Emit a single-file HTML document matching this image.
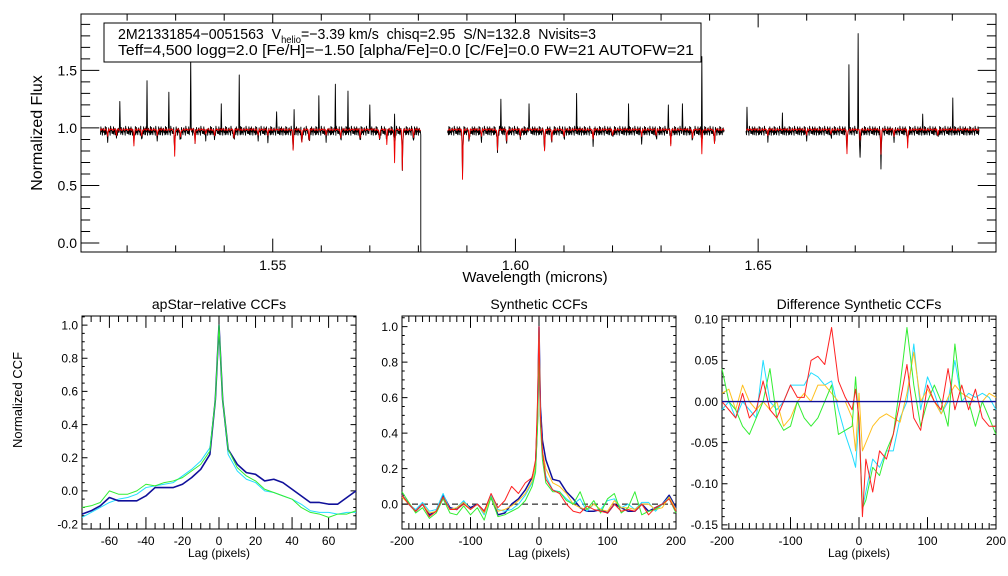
<!DOCTYPE html>
<html><head><meta charset="utf-8"><style>
html,body{margin:0;padding:0;background:#fff;}
svg{display:block;font-family:"Liberation Sans",sans-serif;}
</style></head><body>
<svg id="fig" width="1008" height="576" viewBox="0 0 1008 576" xmlns="http://www.w3.org/2000/svg">
<rect width="1008" height="576" fill="#fff"/>
<g id="top"></g><g id="p1"></g><g id="p2"></g><g id="p3"></g>
<g>
<rect x="104" y="23" width="597" height="39" fill="#fff" stroke="#000" stroke-width="1"/>
<text x="118" y="39" font-size="15" textLength="478" lengthAdjust="spacingAndGlyphs" xml:space="preserve">2M21331854−0051563  V<tspan font-size="10" dy="4">helio</tspan><tspan dy="-4">=−3.39 km/s  chisq=2.95  S/N=132.8  Nvisits=3</tspan></text>
<text x="118" y="55" font-size="15" textLength="576" lengthAdjust="spacingAndGlyphs">Teff=4,500 logg=2.0 [Fe/H]=−1.50 [alpha/Fe]=0.0 [C/Fe]=0.0 FW=21 AUTOFW=21</text>
</g>
</svg>
<script>
// ---------- spectrum data ----------
const segments = [[1.5145,1.5805],[1.5860,1.6430],[1.6475,1.6955]];
const spikeWl = [1.5185,1.5241,1.5286,1.5331,1.5394,1.5431,1.5508,1.5544,1.5595,1.5629,1.5655,1.5700,1.5751,1.5970,1.6028,1.6126,1.6233,1.6315,1.6344,1.6384,1.6477,1.6550,1.6687,1.6706,1.6839,1.6901];
const spikeVal = [1.23,1.41,1.31,1.62,1.21,1.46,1.14,1.16,1.28,1.38,1.32,1.20,1.12,1.25,1.21,1.30,1.21,1.20,1.21,1.62,1.18,1.13,1.55,1.82,1.12,1.26];
const dipWl = [1.5214,1.5298,1.5340,1.5542,1.5560,1.5735,1.5751,1.5767,1.5891,1.5963,1.5982,1.6060,1.6075,1.6320,1.6384,1.6410,1.6683,1.6710,1.6753,1.6808];
const dipModel = [0.85,0.75,0.87,0.81,0.88,0.86,0.69,0.64,0.56,0.80,0.88,0.80,0.88,0.85,0.77,0.86,0.77,0.90,0.78,0.82];
const dipObs = [0.88,0.80,0.90,0.82,0.85,0.88,0.75,0.64,0.60,0.76,0.86,0.77,0.87,0.87,0.77,0.85,0.80,0.71,0.66,0.85];
const weakWl = [1.5160,1.5178,1.5230,1.5262,1.5310,1.5362,1.5380,1.5420,1.5470,1.5490,1.5575,1.5610,1.5640,1.5680,1.5720,1.5790,1.5905,1.5930,1.6010,1.6100,1.6160,1.6200,1.6260,1.6290,1.6365,1.6520,1.6600,1.6650,1.6780,1.6870];
const weakDepth = [0.93,0.94,0.92,0.93,0.92,0.94,0.93,0.92,0.94,0.93,0.90,0.93,0.91,0.92,0.90,0.92,0.90,0.93,0.93,0.92,0.90,0.93,0.92,0.93,0.91,0.93,0.94,0.94,0.93,0.93];
const noise = [0.01,-0.015,0.02,-0.005,0.012,-0.02,0.0,0.018,-0.01,0.005,-0.018,0.015,-0.008,0.02,-0.012,0.004,-0.02,0.01,0.016,-0.006,0.008,-0.014,0.019,-0.003,0.011,-0.017,0.006,-0.009,0.014,-0.011,0.003];
const edgeDropWl = 1.5805, edgeDropVal = 0.0;

// ---------- CCF data ----------
const lag1 = [-75,-70,-65,-60,-55,-50,-45,-40,-35,-30,-25,-20,-15,-10,-5,-2,0,2,5,10,15,20,25,30,35,40,45,50,55,60,65,70,75];
const ccf1Navy = [-0.14,-0.12,-0.09,-0.04,-0.06,-0.06,-0.06,-0.03,0.02,0.02,0.02,0.04,0.08,0.13,0.22,0.55,1.0,0.55,0.25,0.16,0.11,0.10,0.06,0.07,0.05,0.01,-0.03,-0.07,-0.07,-0.08,-0.08,-0.04,0.0];
const ccf1Cyan = [-0.16,-0.13,-0.10,-0.07,-0.05,-0.04,-0.02,0.02,0.03,0.04,0.05,0.09,0.13,0.18,0.26,0.55,1.0,0.55,0.22,0.12,0.07,0.05,0.0,-0.01,-0.03,-0.05,-0.08,-0.12,-0.13,-0.13,-0.14,-0.13,-0.13];
const ccf1Green = [-0.10,-0.09,-0.07,0.0,-0.02,-0.02,0.0,0.04,0.03,0.05,0.06,0.08,0.12,0.16,0.24,0.55,1.0,0.55,0.25,0.14,0.09,0.06,0.01,-0.01,-0.03,-0.05,-0.10,-0.13,-0.14,-0.16,-0.14,-0.14,-0.12];

const lag2 = [-200,-190,-180,-170,-160,-150,-140,-130,-120,-110,-100,-90,-80,-70,-60,-50,-40,-30,-20,-10,-5,-2,0,2,5,10,20,30,40,50,60,70,80,90,100,110,120,130,140,150,160,170,180,190,200];
const ccf2Navy = [0.05,0.0,-0.04,0.0,-0.06,-0.04,0.05,-0.02,-0.03,0.01,-0.02,0.0,-0.04,0.04,-0.06,-0.05,0.0,0.03,0.08,0.15,0.22,0.5,1.0,0.55,0.36,0.25,0.14,0.13,0.07,0.03,-0.02,-0.04,-0.04,-0.03,-0.05,0.0,-0.02,-0.04,-0.04,0.0,-0.04,-0.02,0.0,0.05,-0.02];
const ccf2Cyan = [0.05,0.0,-0.03,0.01,-0.04,-0.03,0.06,-0.03,-0.02,0.02,-0.03,0.0,-0.06,0.05,-0.03,-0.04,-0.03,0.0,0.05,0.12,0.2,0.5,1.0,0.5,0.3,0.16,0.08,0.07,0.03,0.0,0.03,-0.04,0.0,-0.03,0.02,0.03,-0.02,0.0,-0.03,0.01,0.01,-0.04,0.0,0.04,-0.03];
const ccf2Orange = [0.04,0.0,-0.04,0.0,-0.05,-0.04,0.04,-0.03,-0.02,0.01,-0.03,0.0,-0.05,0.04,-0.04,-0.03,-0.01,0.02,0.06,0.13,0.22,0.5,1.0,0.5,0.3,0.2,0.12,0.10,0.06,0.0,-0.02,-0.03,0.0,-0.03,-0.04,0.02,-0.02,-0.02,-0.03,0.0,0.0,-0.03,-0.02,0.04,-0.03];
const ccf2Green = [0.07,0.01,-0.05,-0.02,-0.08,-0.05,0.03,-0.05,-0.06,-0.01,-0.06,-0.02,-0.09,0.04,-0.07,-0.06,-0.04,-0.02,0.02,0.10,0.18,0.45,0.9,0.45,0.25,0.12,0.07,0.07,0.02,0.0,0.07,-0.03,0.02,-0.05,0.03,0.06,-0.05,-0.02,0.07,-0.06,-0.04,-0.03,0.0,0.03,-0.05];
const ccf2Red = [0.05,0.0,-0.04,0.0,-0.07,-0.04,0.04,-0.03,-0.03,0.0,-0.03,0.0,-0.04,0.06,-0.02,0.02,0.10,0.06,0.12,0.15,0.25,0.6,1.0,0.5,0.3,0.14,0.08,0.06,0.0,-0.04,-0.05,-0.01,-0.03,-0.04,-0.05,0.0,-0.04,-0.03,-0.04,0.0,-0.06,-0.02,0.0,0.03,-0.04];

const lag3 = [-200,-190,-180,-170,-160,-150,-140,-130,-120,-110,-100,-90,-80,-70,-60,-50,-40,-30,-20,-10,-5,0,5,10,20,30,40,50,60,70,80,90,100,110,120,130,140,150,160,170,180,190,200];
const diffCyan = [-0.01,0.0,-0.02,0.0,-0.01,-0.02,0.05,0.0,-0.01,0.0,0.02,0.02,0.02,0.035,0.03,0.02,0.025,-0.01,-0.04,-0.065,-0.08,-0.02,-0.13,-0.11,-0.07,-0.08,-0.06,-0.06,-0.02,0.0,0.07,-0.01,0.03,0.01,-0.015,0.0,0.05,0.0,0.01,0.005,0.01,0.005,-0.01];
const diffOrange = [0.01,0.015,-0.01,0.02,0.0,-0.01,0.0,-0.01,0.0,-0.03,-0.02,0.0,0.01,0.0,0.02,0.02,0.01,0.0,0.0,-0.02,-0.06,0.01,-0.06,-0.05,-0.03,-0.02,-0.015,-0.02,-0.025,0.01,0.06,0.0,0.015,0.0,-0.015,0.005,0.02,0.01,0.005,0.0,0.0,0.01,0.005];
const diffGreen = [0.04,0.0,-0.01,-0.03,-0.04,-0.02,0.0,0.04,-0.02,-0.035,-0.03,0.0,-0.02,-0.03,-0.02,0.0,0.02,-0.04,-0.035,-0.03,0.03,-0.03,-0.13,-0.12,-0.08,-0.09,-0.06,-0.04,0.02,0.09,0.02,-0.03,0.0,0.02,0.0,-0.03,0.07,0.0,0.0,-0.03,0.0,-0.02,-0.04];
const diffRed = [0.0,-0.01,-0.02,0.01,-0.02,-0.01,0.025,-0.01,-0.02,0.0,0.02,0.005,0.005,0.05,0.055,0.045,0.09,0.025,0.005,-0.01,0.015,-0.02,-0.14,-0.07,-0.11,-0.06,-0.07,-0.04,0.0,0.045,-0.02,-0.035,0.02,0.0,-0.01,0.04,-0.01,0.02,-0.01,0.015,-0.02,-0.03,-0.03];

const NS='http://www.w3.org/2000/svg';
function mk(parent, tag, attrs){const e=document.createElementNS(NS,tag);for(const k in attrs)e.setAttribute(k,attrs[k]);parent.appendChild(e);return e;}
function scale(d0,d1,r0,r1){return v=>r0+(v-d0)/(d1-d0)*(r1-r0);}

function axes(g, box, xd, yd, xt, yt, fmtX, fmtY, fs){
  const [L,T,R,B]=box;
  const X=scale(xd[0],xd[1],L,R), Y=scale(yd[0],yd[1],B,T);
  const tk=mk(g,'path',{fill:'none',stroke:'#000','stroke-width':1});
  
  
  let d='';
  const maj=(B-T)*0.035, majx=(R-L)*0.02, minx=majx/2;
  for(let v=xt.min0; v<=xd[1]+1e-9; v+=xt.minor){
    const isMaj=Math.abs(Math.round(v/xt.major)*xt.major-v)<1e-7, x=X(v);
    if(x<L-0.1||x>R+0.1) continue;
    const l=isMaj?maj*1.6:maj*0.8;
    d+=`M${x} ${B}v${-l}M${x} ${T}v${l}`;
  }
  for(let v=yt.min0; v<=yd[1]+1e-9; v+=yt.minor){
    const isMaj=Math.abs(Math.round(v/yt.major)*yt.major-v)<1e-7, y=Y(v);
    if(y<T-0.1||y>B+0.1) continue;
    const l=isMaj?majx:minx;
    d+=`M${L} ${y}h${l}M${R} ${y}h${-l}`;
  }
  tk.setAttribute('d',d);
  xt.labels.forEach(v=>{const t=mk(g,'text',{x:X(v),y:B+fs+4,'font-size':fs,'text-anchor':'middle'});t.textContent=fmtX(v);
    
    });
  yt.labels.forEach(v=>{const t=mk(g,'text',{x:L-4,y:Y(v)+fs*0.36,'font-size':fs,'text-anchor':'end'});t.textContent=fmtY(v);
    
    });
  const fr=mk(g,'rect',{x:L,y:T,width:R-L,height:B-T,fill:'none',stroke:'#000','stroke-width':1});
  
  
  return {X,Y};
}
function line(g,X,Y,xs,ys,color,w,name){
  const p=mk(g,'polyline',{points:xs.map((x,i)=>X(x).toFixed(2)+','+Y(ys[i]).toFixed(2)).join(' '),fill:'none',stroke:color,'stroke-width':w,'stroke-linejoin':'round'});
  
  
  return p;
}
function txt(g,x,y,s,fs,name,rot){const t=mk(g,'text',{x:x,y:y,'font-size':fs,'text-anchor':'middle'});if(rot)t.setAttribute('transform',`rotate(-90 ${x} ${y})`);t.textContent=s;
  
  }

// ---------- top panel ----------
(function(){
  const g=document.getElementById('top');
  const {X,Y}=axes(g,[81,14,996,252],[1.5105,1.699],[-0.078,1.99],
    {min0:1.51,minor:0.01,major:0.05,labels:[1.55,1.60,1.65]},
    {min0:0,minor:0.1,major:0.5,labels:[0,0.5,1.0,1.5]},v=>v.toFixed(2),v=>v.toFixed(1),14);
  txt(g,535,282,'Wavelength (microns)',15,'x-axis-title');
  txt(g,42,133,'Normalized Flux',16,'y-axis-title',true);
  const step=0.0001;
  segments.forEach((s,si)=>{
    const obsX=[],obsY=[],modX=[],modY=[];
    let k=si*7;
    for(let w=s[0];w<=s[1]+1e-9;w+=step){
      k++;
      let o=0.972+noise[k%noise.length]*1.9+noise[(k*3)%noise.length]*0.6, m=0.985+noise[(k*7)%noise.length]*0.4;
      dipWl.forEach((dw,i)=>{const a=Math.abs(w-dw);if(a<0.00025){const f=1-a/0.00025;m-= (0.985-dipModel[i])*f*f;o-=(0.975-dipObs[i])*f*f;}});
      weakWl.forEach((dw,i)=>{const a=Math.abs(w-dw);if(a<0.0002){const f=1-a/0.0002;m-=(0.985-weakDepth[i])*f;o-=(0.985-weakDepth[i])*f*1.2;}});
      spikeWl.forEach((sw,i)=>{if(Math.abs(w-sw)<step/2) o=spikeVal[i];});
      obsX.push(w);obsY.push(o);modX.push(w);modY.push(m);
    }
    if(Math.abs(s[1]-edgeDropWl)<1e-6){obsX.push(edgeDropWl);obsY.push(edgeDropVal);obsX.push(edgeDropWl+0.00002);obsY.push(-0.08);}
    line(g,X,Y,obsX,obsY,'#000',0.9,'observed-spectrum-seg'+(si+1));
    line(g,X,Y,modX,modY,'#ee0000',0.9,'model-spectrum-seg'+(si+1));
  });
})();

// ---------- bottom panels ----------
(function(){
  const g=document.getElementById('p1');
  const {X,Y}=axes(g,[82,316,356,529],[-75,75],[-0.23,1.055],
    {min0:-75,minor:5,major:20,labels:[-60,-40,-20,0,20,40,60]},
    {min0:-0.2,minor:0.05,major:0.2,labels:[-0.2,0,0.2,0.4,0.6,0.8,1.0]},v=>String(v),v=>v.toFixed(1),12);
  txt(g,219,309,'apStar−relative CCFs',14,'panel1-title');
  txt(g,219,557,'Lag (pixels)',12,'panel1-x-title');
  txt(g,22,400,'Normalized CCF',13,'panel1-y-title',true);
  line(g,X,Y,lag1,ccf1Cyan,'#22ddff',1,'ccf1-cyan');
  line(g,X,Y,lag1,ccf1Navy,'#10109a',1.6,'ccf1-navy');
  line(g,X,Y,lag1,ccf1Green,'#33ee33',1,'ccf1-green');
})();
(function(){
  const g=document.getElementById('p2');
  const {X,Y}=axes(g,[402,316,676,529],[-200,200],[-0.14,1.06],
    {min0:-200,minor:10,major:100,labels:[-200,-100,0,100,200]},
    {min0:-0.1,minor:0.05,major:0.2,labels:[0,0.2,0.4,0.6,0.8,1.0]},v=>String(v),v=>v.toFixed(1),12);
  txt(g,539,309,'Synthetic CCFs',14,'panel2-title');
  txt(g,539,557,'Lag (pixels)',12,'panel2-x-title');
  const z=mk(g,'line',{x1:X(-200),x2:X(200),y1:Y(0),y2:Y(0),stroke:'#000','stroke-dasharray':'6,4','stroke-width':1});
  
  
  line(g,X,Y,lag2,ccf2Navy,'#10109a',1.5,'ccf2-navy');
  line(g,X,Y,lag2,ccf2Cyan,'#22ddff',1,'ccf2-cyan');
  line(g,X,Y,lag2,ccf2Orange,'#ffc020',1,'ccf2-orange');
  line(g,X,Y,lag2,ccf2Green,'#33ee33',1,'ccf2-green');
  line(g,X,Y,lag2,ccf2Red,'#ff2222',1,'ccf2-red');
})();
(function(){
  const g=document.getElementById('p3');
  const {X,Y}=axes(g,[722,316,996,529],[-200,200],[-0.155,0.104],
    {min0:-200,minor:10,major:100,labels:[-200,-100,0,100,200]},
    {min0:-0.15,minor:0.01,major:0.05,labels:[-0.15,-0.1,-0.05,0,0.05,0.1]},v=>String(v),v=>v.toFixed(2),12);
  txt(g,859,309,'Difference Synthetic CCFs',14,'panel3-title');
  txt(g,859,557,'Lag (pixels)',12,'panel3-x-title');
  line(g,X,Y,lag3,diffCyan,'#22ddff',1,'diff-cyan');
  line(g,X,Y,lag3,diffOrange,'#ffc020',1,'diff-orange');
  line(g,X,Y,lag3,diffGreen,'#33ee33',1,'diff-green');
  line(g,X,Y,lag3,diffRed,'#ff2222',1,'diff-red');
  const z=mk(g,'line',{x1:X(-200),x2:X(200),y1:Y(0),y2:Y(0),stroke:'#10109a','stroke-width':1.4});
  
  
})();
</script>
</body></html>
